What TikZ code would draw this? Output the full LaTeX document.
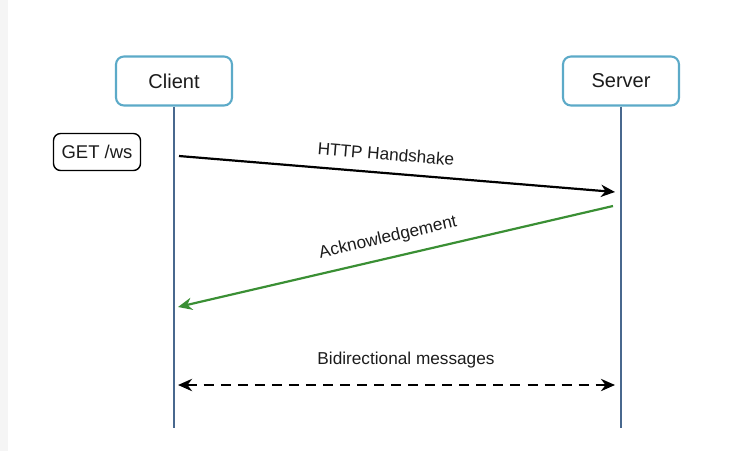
\documentclass[tikz,border=0pt]{standalone}
\usepackage{fontspec}
\setmainfont{Liberation Sans}
\usepackage{xcolor}
\usetikzlibrary{arrows.meta, positioning}
\definecolor{boxblue}{RGB}{92,170,200}
\definecolor{lifeblue}{RGB}{72,104,142}
\definecolor{ackgreen}{RGB}{58,143,52}
\definecolor{txtgray}{RGB}{28,28,28}

\begin{document}
\begin{tikzpicture}[
        x=0.02cm, y=-0.02cm,
        party/.style={rectangle, rounded corners=4.5pt, draw=boxblue, fill=white,
                      line width=1.2pt, minimum width=2.32cm, minimum height=0.98cm,
                      inner sep=0pt, text=txtgray, font=\fontsize{11.4}{13}\selectfont},
        request/.style={rectangle, rounded corners=4pt, draw=black, fill=white,
                        line width=0.8pt, minimum width=1.74cm, minimum height=0.74cm,
                        inner sep=0pt, text=txtgray, font=\fontsize{10.5}{12}\selectfont},
        lifeline/.style={lifeblue, line width=1.2pt},
        msg/.style={-{Stealth[length=8pt, width=7pt]}, line width=1.25pt},
        msglabel/.style={text=txtgray, font=\fontsize{9.8}{11}\selectfont}
      ]
        \useasboundingbox (0,0) rectangle (747,451);
        \fill[black!4] (0,0) rectangle (8,451);
        % Nodes — manually placed
        \node[party] (client) at (174,81) {Client};
        \node[party] (server) at (621,81) {Server};
        \node[request] (get) at (97,152) {GET /ws};
        \coordinate (clientend) at (174,428);
        \coordinate (serverend) at (621,428);
        % Message end points on the lifelines
        \coordinate (hsA)  at (179,156);
        \coordinate (hsB)  at (615,192);
        \coordinate (ackA) at (613,206);
        \coordinate (ackB) at (178,307);
        \coordinate (biA)  at (178,385);
        \coordinate (biB)  at (615,385);
        % Edges
        \draw[lifeline] (client.south) -- (clientend);
        \draw[lifeline] (server.south) -- (serverend);
        \draw[msg, black] (hsA) -- (hsB);
        \draw[msg, ackgreen] (ackA) -- (ackB);
        \draw[msg, black, {Stealth[length=8pt, width=7pt]}-{Stealth[length=8pt, width=7pt]},
              dash pattern=on 5.7pt off 4pt] (biA) -- (biB);
        % Edge labels
        \node[msglabel, rotate=-4.7] (hslabel)  at (386,154) {HTTP Handshake};
        \node[msglabel, rotate=13]   (acklabel) at (388,238) {Acknowledgement};
        \node[msglabel]              (bilabel)  at (406,360) {Bidirectional messages};
      \end{tikzpicture}
\end{document}
